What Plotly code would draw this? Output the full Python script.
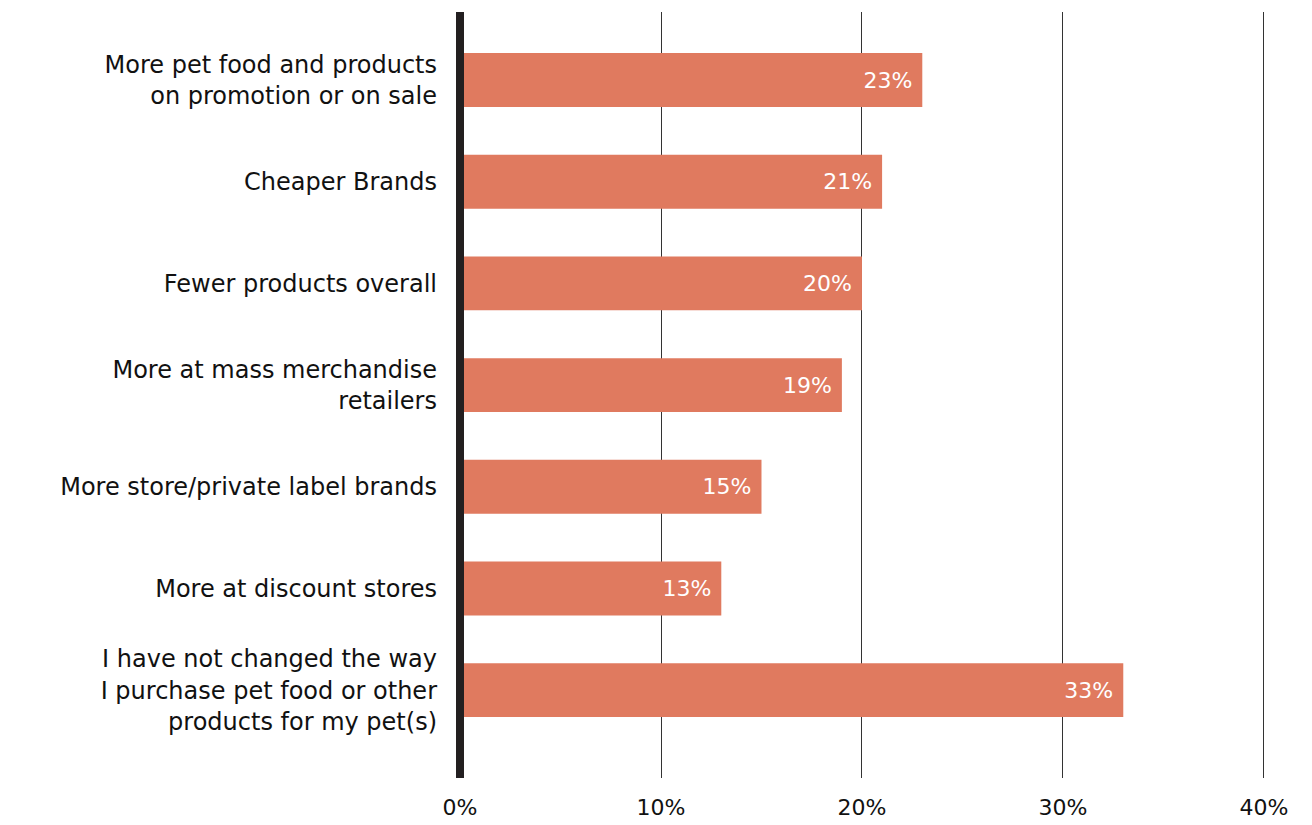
import plotly.graph_objects as go

# Survey answers, top to bottom
categories = [
    "More pet food and products<br>on promotion or on sale",
    "Cheaper Brands",
    "Fewer products overall",
    "More at mass merchandise<br>retailers",
    "More store/private label brands",
    "More at discount stores",
    "I have not changed the way<br>I purchase pet food or other<br>products for my pet(s)",
]
values = [23, 21, 20, 19, 15, 13, 33]
x_ticks = [0, 10, 20, 30, 40]
x_tick_labels = ["0%", "10%", "20%", "30%", "40%"]

FONT = "'DejaVu Sans', sans-serif"
BAR = "#e07a5f"
INK = "#231f20"

fig = go.Figure(
    go.Bar(
        x=values,
        y=list(range(len(categories))),
        orientation="h",
        marker=dict(color=BAR, line=dict(width=0)),
        width=0.53,
        text=[f"{v}%\u00a0" for v in values],
        textposition="inside",
        insidetextanchor="end",
        textfont=dict(color="white", size=22, family=FONT),
        cliponaxis=False,
    )
)

# Thick baseline at 0%
fig.add_shape(
    type="line", xref="paper", yref="paper",
    x0=0, x1=0, y0=0, y1=1,
    line=dict(color=INK, width=8), layer="above",
)

fig.update_layout(
    width=1312, height=825,
    margin=dict(l=460, r=44, t=12, b=47),
    paper_bgcolor="white", plot_bgcolor="white",
    showlegend=False,
    font=dict(family=FONT, color="#111111"),
    xaxis=dict(
        range=[0, 40.2],
        tickvals=x_ticks, ticktext=x_tick_labels,
        showgrid=True, gridcolor="#333333", gridwidth=1,
        zeroline=False, showline=False, automargin=False,
        tickfont=dict(size=22, family=FONT, color="#111111"),
        ticks="", ticklabelstandoff=14,
    ),
    yaxis=dict(
        range=[6.864, -0.669],
        tickvals=list(range(len(categories))), ticktext=categories,
        showgrid=False, zeroline=False, showline=False, automargin=False,
        tickfont=dict(size=24, family=FONT, color="#111111"),
        ticks="", ticklabelstandoff=22,
    ),
)

fig.write_html("out.html")
